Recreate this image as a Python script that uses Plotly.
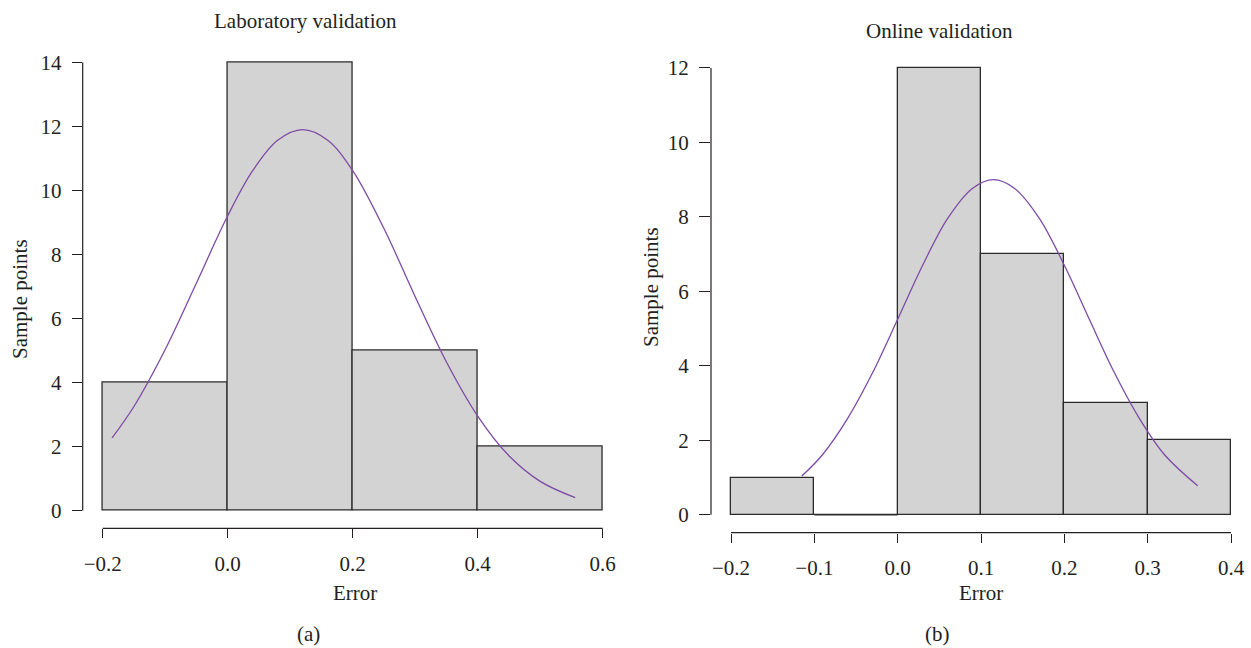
import plotly.graph_objects as go

W, H = 1251, 648

# ---------------- data ----------------
lab_edges = [-0.2, 0.0, 0.2, 0.4, 0.6]
lab_counts = [4, 14, 5, 2]
lab_curve_x = [-0.185, -0.15, -0.1, -0.05, 0.0, 0.04, 0.08, 0.12, 0.16, 0.2, 0.25,
               0.3, 0.35, 0.4, 0.45, 0.5, 0.556]
lab_curve_y = [2.27, 3.25, 5.03, 7.11, 9.21, 10.62, 11.57, 11.9, 11.57, 10.62, 8.81,
               6.68, 4.64, 2.95, 1.71, 0.91, 0.40]
lab_xticks = [-0.2, 0.0, 0.2, 0.4, 0.6]
lab_xticklabels = ["\u22120.2", "0.0", "0.2", "0.4", "0.6"]
lab_yticks = [0, 2, 4, 6, 8, 10, 12, 14]

onl_edges = [-0.2, -0.1, 0.0, 0.1, 0.2, 0.3, 0.4]
onl_counts = [1, 0, 12, 7, 3, 2]
onl_curve_x = [-0.115, -0.09, -0.06, -0.03, 0.0, 0.03, 0.06, 0.09, 0.115, 0.14, 0.17,
               0.2, 0.23, 0.26, 0.29, 0.32, 0.36]
onl_curve_y = [1.04, 1.62, 2.59, 3.82, 5.25, 6.70, 7.96, 8.77, 9.0, 8.77, 7.96,
               6.70, 5.25, 3.82, 2.59, 1.62, 0.78]
onl_xticks = [-0.2, -0.1, 0.0, 0.1, 0.2, 0.3, 0.4]
onl_xticklabels = ["\u22120.2", "\u22120.1", "0.0", "0.1", "0.2", "0.3", "0.4"]
onl_yticks = [0, 2, 4, 6, 8, 10, 12]

titles = ["Laboratory validation", "Online validation"]
xlabel = "Error"
ylabel = "Sample points"
panel_tags = ["(a)", "(b)"]

# ---------------- style ----------------
FONT = "Liberation Serif"
TXT = "#231f20"
FS = 21
BAR_FILL = "#d3d3d3"
BAR_EDGE = "#2b2b2b"
CURVE = "#7d4ba6"

fig = go.Figure()


def add_hist(edges, counts, cx, cy, xa, ya):
    centers = [(edges[i] + edges[i + 1]) / 2 for i in range(len(counts))]
    widths = [edges[i + 1] - edges[i] for i in range(len(counts))]
    fig.add_trace(go.Bar(x=centers, y=counts, width=widths, xaxis=xa, yaxis=ya,
                         marker=dict(color=BAR_FILL, line=dict(color=BAR_EDGE, width=1.3)),
                         showlegend=False, hoverinfo="skip"))
    # zero-height bins are drawn as a flat outline, as in the original
    for i, c in enumerate(counts):
        if c == 0:
            fig.add_trace(go.Scatter(x=[edges[i], edges[i + 1]], y=[0, 0], mode="lines",
                                     line=dict(color=BAR_EDGE, width=1.3),
                                     xaxis=xa, yaxis=ya, showlegend=False, hoverinfo="skip"))
    fig.add_trace(go.Scatter(x=cx, y=cy, mode="lines", line=dict(color=CURVE, width=1.3, shape="spline"),
                             xaxis=xa, yaxis=ya, showlegend=False, hoverinfo="skip"))


add_hist(lab_edges, lab_counts, lab_curve_x, lab_curve_y, "x", "y")
add_hist(onl_edges, onl_counts, onl_curve_x, onl_curve_y, "x2", "y2")

tickfont = dict(family=FONT, size=FS, color=TXT)


def xaxis_cfg(domain, rng, tv, tt):
    return dict(domain=domain, range=rng, tickvals=tv, ticktext=tt, ticks="outside", ticklen=9,
                tickwidth=1.2, tickcolor=TXT, showline=False, showgrid=False, zeroline=False,
                tickfont=tickfont, ticklabelstandoff=7, fixedrange=True)


def yaxis_cfg(domain, rng, tv, anchor, ticklen):
    return dict(domain=domain, range=rng, tickvals=tv, ticks="outside", ticklen=ticklen,
                tickwidth=1.2, tickcolor=TXT, showline=False, showgrid=False, zeroline=False,
                tickfont=tickfont, ticklabelstandoff=6, anchor=anchor, fixedrange=True)


lab_xr = [lab_edges[0] - 0.04 * (lab_edges[-1] - lab_edges[0]), lab_edges[-1] + 0.04 * (lab_edges[-1] - lab_edges[0])]
lab_yr = [-0.04 * max(lab_yticks), max(lab_yticks) * 1.04]
onl_xr = [onl_edges[0] - 0.04 * (onl_edges[-1] - onl_edges[0]), onl_edges[-1] + 0.04 * (onl_edges[-1] - onl_edges[0])]
onl_yr = [-0.04 * max(onl_yticks), max(onl_yticks) * 1.04]

fig.update_layout(
    width=W, height=H,
    margin=dict(l=0, r=0, t=0, b=0),
    paper_bgcolor="white", plot_bgcolor="white",
    bargap=0,
    xaxis=dict(**xaxis_cfg([82.7 / W, 622.7 / W], lab_xr, lab_xticks, lab_xticklabels), anchor="y"),
    yaxis=yaxis_cfg([1 - 528.4 / H, 1 - 44.6 / H], lab_yr, lab_yticks, "x", 10),
    xaxis2=dict(**xaxis_cfg([711 / W, 1.0], onl_xr, onl_xticks, onl_xticklabels), anchor="y2"),
    yaxis2=yaxis_cfg([1 - 532.7 / H, 1 - 50.0 / H], onl_yr, onl_yticks, "x2", 11),
)

# R-style axis lines spanning only the tick range
axline = dict(color=TXT, width=1.2)
for xa, ya, xt, yt in [("x", "y", lab_xticks, lab_yticks), ("x2", "y2", onl_xticks, onl_yticks)]:
    fig.add_shape(type="line", xref=xa, yref=ya + " domain", x0=min(xt), x1=max(xt), y0=0, y1=0, line=axline)
    fig.add_shape(type="line", xref=xa + " domain", yref=ya, x0=0, x1=0, y0=min(yt), y1=max(yt), line=axline)


def ann(text, px, py, angle=0):
    fig.add_annotation(text=text, x=px / W, y=1 - py / H, xref="paper", yref="paper",
                       xanchor="center", yanchor="middle", showarrow=False, textangle=angle,
                       font=dict(family=FONT, size=FS, color=TXT))


ann(titles[0], 305, 21)
ann(titles[1], 940, 31)
ann(xlabel, 355, 593)
ann(xlabel, 981, 593)
ann(ylabel, 20, 299, -90)
ann(ylabel, 651, 287, -90)
ann(panel_tags[0], 308, 634)
ann(panel_tags[1], 937, 634)

fig.write_html("out.html")
